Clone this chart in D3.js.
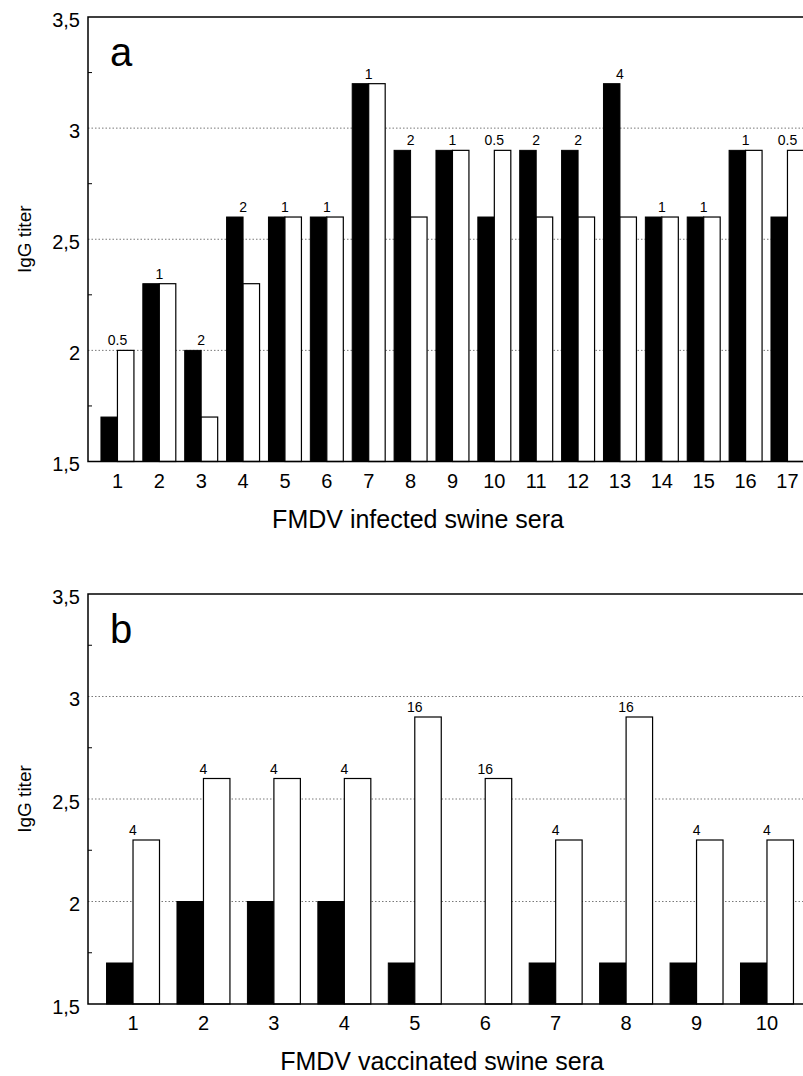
<!DOCTYPE html>
<html>
<head>
<meta charset="utf-8">
<script src="https://cdn.jsdelivr.net/npm/d3@7"></script>
<style>
body { margin:0; background:#fff; }
svg { font-family: "Liberation Sans", Arial, sans-serif; }
.grid { stroke:#555; stroke-width:0.8; stroke-dasharray:1.5,2; }
.frame { stroke:#000; stroke-width:1.5; fill:none; }
</style>
</head>
<body>
<div id="chart"></div>
<script>
// panel a : infected sera
var seraA = ["1","2","3","4","5","6","7","8","9","10","11","12","13","14","15","16","17"];
var blackA = [1.7,2.3,2.0,2.6,2.6,2.6,3.2,2.9,2.9,2.6,2.9,2.9,3.2,2.6,2.6,2.9,2.6];
var whiteA = [2.0,2.3,1.7,2.3,2.6,2.6,3.2,2.6,2.9,2.9,2.6,2.6,2.6,2.6,2.6,2.9,2.9];
var labelA = ["0.5","1","2","2","1","1","1","2","1","0.5","2","2","4","1","1","1","0.5"];

// panel b : vaccinated sera
var seraB = ["1","2","3","4","5","6","7","8","9","10"];
var blackB = [1.7,2.0,2.0,2.0,1.7,1.5,1.7,1.7,1.7,1.7];
var whiteB = [2.3,2.6,2.6,2.6,2.9,2.6,2.3,2.9,2.3,2.3];
var labelB = ["4","4","4","4","16","16","4","16","4","4"];

var yTicks = [1.5,2,2.5,3,3.5];
var yMinor = [1.75,2.25,2.75,3.25];

var svg = d3.select("#chart").append("svg")
	.attr("width",803)
	.attr("height",1076);

function plotPanel(opt){
	var left = 88, right = 803;

	var yScale = d3.scaleLinear()
		.domain([1.5,3.5])
		.range([opt.bottom,opt.top]);

	var xScale = d3.scaleBand()
		.domain(opt.sera)
		.range(opt.xRange)
		.padding(0);

	var sub = d3.scaleBand()
		.domain(["black","white"])
		.range([0,xScale.bandwidth()])
		.paddingInner(0)
		.paddingOuter(opt.pairPad);

	var g = svg.append("g");

	//grid
	g.selectAll(".grid")
		.data([2,2.5,3])
		.enter()
		.append("line")
		.attr("class","grid")
		.attr("x1",left)
		.attr("x2",right)
		.attr("y1",function(d){ return yScale(d); })
		.attr("y2",function(d){ return yScale(d); });

	//minor ticks
	g.selectAll(".minor")
		.data(yMinor)
		.enter()
		.append("line")
		.attr("stroke","#000")
		.attr("x1",left)
		.attr("x2",left+4)
		.attr("y1",function(d){ return yScale(d); })
		.attr("y2",function(d){ return yScale(d); });

	var rows = opt.sera.map(function(s,i){
		return {s:s, b:opt.black[i], w:opt.white[i], l:opt.label[i]};
	});

	//black bars
	g.selectAll(".bb")
		.data(rows)
		.enter()
		.append("rect")
		.attr("x",function(d){ return xScale(d.s)+sub("black"); })
		.attr("width",sub.bandwidth())
		.attr("y",function(d){ return yScale(d.b); })
		.attr("height",function(d){ return yScale(1.5)-yScale(d.b); })
		.attr("fill","#000")
		.attr("stroke","#000")
		.attr("stroke-width",1);

	//white bars
	g.selectAll(".wb")
		.data(rows)
		.enter()
		.append("rect")
		.attr("x",function(d){ return xScale(d.s)+sub("white"); })
		.attr("width",sub.bandwidth())
		.attr("y",function(d){ return yScale(d.w); })
		.attr("height",function(d){ return yScale(1.5)-yScale(d.w); })
		.attr("fill","#fff")
		.attr("stroke","#000")
		.attr("stroke-width",1.2);

	//ratio labels
	g.selectAll(".lab")
		.data(rows)
		.enter()
		.append("text")
		.attr("x",function(d){ return xScale(d.s)+xScale.bandwidth()/2; })
		.attr("y",function(d){ return yScale(Math.max(d.b,d.w))-5; })
		.attr("text-anchor","middle")
		.style("font-size","14px")
		.text(function(d){ return d.l; });

	//frame
	g.append("path")
		.attr("class","frame")
		.attr("d","M"+right+","+opt.top+"H"+left+"V"+opt.bottom+"H"+right);

	var yAxis = d3.axisLeft(yScale)
		.tickValues(yTicks)
		.tickSize(0)
		.tickPadding(8)
		.tickFormat(function(d){ return String(d).replace(".",","); });

	var ya = g.append("g")
		.attr("transform","translate("+left+",0)")
		.call(yAxis);
	ya.select(".domain").remove();
	ya.selectAll("text")
		.style("font-size","20px")
		.attr("dy","0.45em");

	var xAxis = d3.axisBottom(xScale)
		.tickSize(0)
		.tickPadding(12);

	var xa = g.append("g")
		.attr("transform","translate(0,"+opt.bottom+")")
		.call(xAxis);
	xa.select(".domain").remove();
	xa.selectAll("text")
		.style("font-size","20px");

	g.append("text")
		.attr("x",opt.titleX)
		.attr("y",opt.bottom+66)
		.attr("text-anchor","middle")
		.style("font-size","25px")
		.text(opt.title);

	g.append("text")
		.attr("transform","translate(31,"+((opt.top+opt.bottom)/2)+") rotate(-90)")
		.attr("text-anchor","middle")
		.style("font-size","19px")
		.text("IgG titer");

	g.append("text")
		.attr("x",110)
		.attr("y",opt.top+49)
		.style("font-size","40px")
		.text(opt.letter);
}

plotPanel({
	sera:seraA, black:blackA, white:whiteA, label:labelA,
	top:17, bottom:461.5, xRange:[96.5,808.4], pairPad:0.27,
	title:"FMDV infected swine sera", titleX:418, letter:"a"
});

plotPanel({
	sera:seraB, black:blackB, white:whiteB, label:labelB,
	top:594, bottom:1004, xRange:[97.8,802.2], pairPad:0.33,
	title:"FMDV vaccinated swine sera", titleX:442, letter:"b"
});
</script>
</body>
</html>
